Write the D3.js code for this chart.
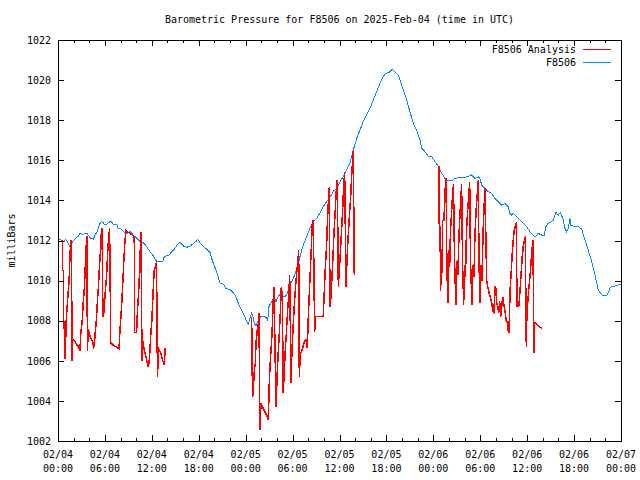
<!DOCTYPE html>
<html><head><meta charset="utf-8">
<script src="https://cdn.jsdelivr.net/npm/d3@7"></script>
<style>
body{margin:0;background:#fff}
text{font-family:"DejaVu Sans Mono",monospace;font-size:10px;fill:#000}
</style>
</head><body>
<svg id="c" width="640" height="480"></svg>
<script>
// hours since 2025-02-04 00:00 UTC, pressure in millibars
const stationObs = [[0.13,1012.07],[0.77,1011.94],[0.98,1012.06],[1.19,1011.94],[1.53,1011.7],[1.75,1011.86],[1.96,1012.0],[2.39,1012.16],[2.6,1012.22],[2.81,1012.36],[3.24,1012.31],[3.67,1012.36],[3.87,1012.27],[4.09,1012.14],[4.51,1012.06],[4.73,1012.27],[5.03,1012.44],[5.28,1012.77],[5.5,1012.94],[5.79,1012.89],[6.01,1012.77],[6.23,1012.82],[6.65,1012.94],[6.87,1012.92],[7.07,1012.82],[7.29,1012.77],[7.51,1012.82],[7.71,1012.6],[8.15,1012.56],[8.35,1012.44],[8.57,1012.39],[8.86,1012.36],[9.21,1012.44],[9.42,1012.36],[9.63,1012.27],[9.85,1012.19],[10.06,1012.11],[10.49,1011.94],[10.91,1011.89],[11.34,1011.7],[11.76,1011.44],[12.19,1011.23],[12.62,1010.94],[13.04,1010.94],[13.39,1010.94],[13.55,1011.16],[13.81,1011.23],[14.1,1011.23],[14.54,1011.44],[14.96,1011.61],[15.38,1011.86],[15.6,1011.9],[16.02,1011.73],[16.46,1011.66],[16.88,1011.73],[17.3,1011.83],[17.74,1011.99],[17.86,1012.06],[18.16,1011.89],[18.58,1011.7],[19.02,1011.56],[19.44,1011.4],[19.65,1011.11],[19.86,1010.86],[20.29,1010.45],[20.72,1009.86],[21.14,1009.83],[21.48,1009.6],[22.0,1009.56],[22.42,1009.4],[22.76,1009.2],[23.06,1008.87],[23.49,1008.53],[23.91,1008.2],[24.13,1007.95],[24.34,1007.84],[24.55,1008.12],[24.77,1008.37],[24.9,1008.28],[25.1,1007.87],[25.32,1007.74],[25.53,1007.95],[25.74,1008.12],[25.96,1008.2],[26.25,1008.2],[26.47,1008.23],[26.69,1008.12],[26.82,1008.04],[26.98,1008.7],[27.2,1008.87],[27.45,1009.03],[27.66,1009.2],[27.88,1008.95],[28.05,1009.1],[28.3,1009.3],[28.48,1009.2],[28.82,1009.23],[29.07,1009.2],[29.37,1009.4],[29.67,1009.78],[30.09,1010.11],[30.52,1010.53],[30.95,1011.2],[31.37,1011.78],[31.8,1012.19],[32.23,1012.61],[32.65,1012.94],[33.08,1013.11],[33.5,1013.36],[33.93,1013.69],[34.36,1013.94],[34.78,1014.15],[35.2,1014.45],[35.64,1014.6],[36.06,1014.93],[36.48,1015.18],[36.92,1015.52],[37.34,1015.85],[37.76,1016.51],[38.2,1017.1],[38.62,1017.5],[39.04,1017.93],[39.48,1018.26],[39.9,1018.59],[40.32,1019.0],[40.75,1019.42],[41.18,1019.84],[41.6,1020.2],[41.94,1020.34],[42.24,1020.37],[42.46,1020.42],[42.75,1020.54],[43.09,1020.42],[43.52,1020.25],[43.82,1019.92],[44.16,1019.5],[44.59,1019.0],[45.01,1018.42],[45.44,1017.84],[45.87,1017.51],[46.29,1017.01],[46.51,1016.6],[46.93,1016.43],[47.35,1016.21],[47.79,1016.18],[48.21,1015.93],[48.63,1015.7],[49.07,1015.35],[49.49,1015.1],[49.91,1014.98],[50.35,1014.98],[50.77,1015.1],[51.41,1015.15],[52.05,1015.15],[52.6,1015.22],[52.9,1015.27],[53.32,1015.1],[53.75,1015.18],[53.96,1015.1],[54.18,1014.77],[54.6,1014.6],[55.03,1014.44],[55.47,1014.35],[55.88,1014.1],[56.31,1013.94],[56.74,1013.77],[57.16,1013.85],[57.58,1013.69],[57.8,1013.35],[58.02,1013.27],[58.22,1013.35],[58.66,1013.19],[59.08,1013.02],[59.5,1012.86],[59.94,1012.69],[60.36,1012.44],[60.78,1012.27],[61.0,1012.16],[61.42,1012.36],[61.85,1012.27],[62.15,1012.22],[62.4,1012.69],[62.7,1012.86],[63.13,1012.94],[63.34,1013.02],[63.68,1013.39],[63.98,1013.27],[64.28,1013.39],[64.62,1013.02],[64.83,1012.61],[65.05,1012.44],[65.26,1012.6],[65.47,1013.1],[65.56,1012.77],[65.9,1012.72],[66.53,1012.72],[66.97,1012.56],[67.39,1012.03],[67.81,1011.53],[68.25,1010.95],[68.67,1010.28],[69.09,1009.53],[69.53,1009.28],[69.95,1009.23],[70.24,1009.28],[70.59,1009.62],[70.8,1009.73],[71.23,1009.73],[71.65,1009.78],[72.0,1009.83]];

const analysisDay1 = [[0.55,1012.0],[0.58,1010.5],[0.7,1010.5],[0.72,1007.6],[0.82,1008.0],[0.92,1006.1],[1.05,1008.0],[1.17,1008.7],[1.3,1009.4],[1.42,1010.0],[1.55,1011.4],[1.62,1011.9],[1.7,1012.0],[1.82,1006.0],[1.88,1007.1],[2.1,1007.0],[2.4,1006.8],[2.65,1006.7],[2.8,1006.5],[2.92,1007.4],[3.1,1008.0],[3.22,1008.9],[3.35,1009.5],[3.47,1010.5],[3.6,1011.7],[3.7,1012.2],[3.76,1006.5],[3.88,1007.6],[4.05,1007.3],[4.22,1007.1],[4.4,1007.0],[4.57,1006.7],[4.65,1006.8],[4.78,1007.5],[4.9,1008.0],[5.03,1008.9],[5.17,1009.7],[5.3,1010.7],[5.42,1011.4],[5.5,1012.2],[5.63,1012.6],[5.75,1008.2],[5.9,1008.5],[6.0,1009.2],[6.15,1009.9],[6.25,1010.5],[6.35,1011.4],[6.45,1012.0],[6.6,1012.6],[6.75,1006.9],[7.0,1006.8],[7.4,1006.7],[7.8,1006.6],[7.92,1007.5],[8.05,1008.2],[8.17,1009.0],[8.3,1010.0],[8.42,1011.0],[8.55,1011.9],[8.7,1012.5],[9.0,1012.4],[9.4,1012.3],[9.75,1012.2],[9.78,1007.4],[10.05,1007.4],[10.15,1008.4],[10.28,1009.2],[10.4,1010.2],[10.5,1011.3],[10.6,1012.4],[10.75,1006.0],[10.85,1007.0],[11.0,1006.6],[11.2,1006.3],[11.4,1005.9],[11.55,1005.7],[11.7,1006.1],[11.85,1007.2],[12.0,1008.0],[12.15,1009.3],[12.3,1010.5],[12.6,1010.9],[12.72,1005.2],[12.85,1006.6],[13.0,1006.5],[13.2,1006.3],[13.4,1006.0],[13.6,1005.8],[13.7,1006.6],[13.85,1006.6]];

const analysisDay2 = [[24.77,1008.2],[24.8,1006.2],[24.89,1004.2],[24.98,1004.55],[25.11,1005.54],[25.23,1005.87],[25.32,1006.87],[25.49,1007.54],[25.62,1007.87],[25.7,1008.37],[25.83,1002.55],[25.96,1003.88],[26.13,1003.71],[26.34,1003.55],[26.56,1003.38],[26.77,1003.21],[26.9,1003.05],[27.02,1004.88],[27.11,1005.71],[27.24,1006.54],[27.37,1007.37],[27.45,1008.2],[27.54,1009.2],[27.62,1009.7],[27.88,1003.71],[28.05,1005.54],[28.18,1006.54],[28.3,1007.37],[28.43,1008.37],[28.56,1009.7],[28.69,1009.2],[28.81,1004.38],[28.94,1005.54],[29.07,1006.54],[29.2,1007.37],[29.37,1008.54],[29.5,1009.2],[29.63,1010.28],[29.8,1004.88],[29.92,1006.54],[30.05,1007.54],[30.18,1008.54],[30.35,1009.53],[30.52,1010.36],[30.69,1011.03],[30.78,1011.53],[30.86,1005.21],[30.99,1006.37],[31.16,1006.46],[31.33,1006.71],[31.5,1006.96],[31.71,1007.04],[31.88,1006.62],[32.01,1008.2],[32.14,1009.37],[32.27,1010.53],[32.4,1011.69],[32.52,1012.86],[32.65,1013.02],[32.82,1007.45],[32.95,1008.2],[33.16,1008.2],[33.59,1008.2],[33.93,1008.24],[34.06,1009.53],[34.19,1010.69],[34.36,1011.86],[34.48,1013.19],[34.61,1014.19],[34.7,1014.69],[34.78,1008.7],[34.91,1009.2],[35.04,1010.2],[35.17,1011.2],[35.29,1012.36],[35.46,1013.52],[35.59,1014.52],[35.72,1015.02],[35.85,1009.7],[35.98,1010.53],[36.15,1011.69],[36.27,1012.52],[36.4,1013.52],[36.53,1014.69],[36.66,1015.43],[36.83,1009.7],[36.96,1011.03],[37.08,1012.0],[37.26,1013.19],[37.43,1014.19],[37.55,1015.18],[37.68,1016.0],[37.77,1016.51],[37.89,1010.28]];

const analysisDay3 = [[48.72,1015.7],[48.76,1012.7],[48.85,1012.7],[48.94,1009.5],[49.02,1011.5],[49.1,1010.4],[49.19,1013.0],[49.36,1013.0],[49.49,1014.4],[49.62,1015.1],[49.74,1010.5],[49.87,1008.9],[49.96,1011.5],[50.09,1010.7],[50.19,1012.5],[50.32,1013.3],[50.45,1014.2],[50.58,1014.8],[50.7,1011.2],[50.79,1010.0],[50.9,1008.8],[51.02,1011.0],[51.15,1010.3],[51.28,1012.3],[51.41,1013.3],[51.62,1014.8],[51.73,1011.0],[51.88,1008.8],[51.98,1010.8],[52.11,1010.2],[52.24,1012.5],[52.39,1013.5],[52.65,1014.9],[52.75,1011.0],[52.94,1008.8],[53.07,1010.8],[53.2,1010.2],[53.32,1012.3],[53.49,1013.6],[53.75,1015.0],[53.84,1011.0],[53.96,1008.9],[54.09,1010.8],[54.22,1010.0],[54.35,1012.3],[54.48,1013.6],[54.6,1014.6],[54.82,1010.0],[54.95,1009.7],[55.12,1009.4],[55.28,1009.2],[55.46,1008.9],[55.63,1008.45],[55.75,1008.4],[55.88,1009.7],[55.97,1009.7],[56.1,1008.9],[56.23,1008.7],[56.36,1008.4],[56.48,1009.0],[56.61,1008.2],[56.74,1008.7],[56.87,1009.2],[56.94,1009.0],[57.07,1008.7],[57.2,1008.4],[57.33,1008.0],[57.46,1007.9],[57.58,1007.5],[57.67,1007.4],[57.76,1008.7],[57.84,1009.7],[57.97,1010.5],[58.1,1011.4],[58.22,1012.0],[58.35,1012.5],[58.48,1012.7],[58.61,1012.9],[58.7,1008.7],[58.91,1008.7],[58.99,1009.0],[59.12,1009.7],[59.25,1010.5],[59.37,1011.2],[59.5,1011.7],[59.63,1012.0],[59.76,1012.2],[59.89,1006.7],[59.97,1008.5],[60.1,1009.0],[60.23,1009.7],[60.36,1010.2],[60.49,1010.9],[60.61,1011.5],[60.74,1012.0],[60.87,1006.4],[60.91,1007.9],[61.04,1007.9],[61.29,1007.8],[61.55,1007.7],[61.73,1007.65],[61.93,1007.6]];

const yTicks = [1002,1004,1006,1008,1010,1012,1014,1016,1018,1020,1022];
const xMajorHours = [0,6,12,18,24,30,36,42,48,54,60,66,72];
const xTickDates = ["02/04","02/04","02/04","02/04","02/05","02/05","02/05","02/05","02/06","02/06","02/06","02/06","02/07"];
const xTickTimes = ["00:00","06:00","12:00","18:00","00:00","06:00","12:00","18:00","00:00","06:00","12:00","18:00","00:00"];
const xMinorHours = d3.range(0, 73, 2).filter(h => h % 6 !== 0);
const titleText = "Barometric Pressure for F8506 on 2025-Feb-04 (time in UTC)";
const yLabel = "milliBars";
const seriesNames = ["F8506 Analysis", "F8506"];
const seriesColors = ["#ff0000", "#0a85ff"];

const L = 58, R = 621, T = 40, B = 441;
const svg = d3.select("#c");
const x = d3.scaleLinear().domain([0, 72]).range([L, R]);
const y = d3.scaleLinear().domain([1002, 1022]).range([B, T]);

// data lines
const line = d3.line().x(d => x(d[0])).y(d => y(d[1]));
const plot = svg.append("g");
plot.append("path").datum(stationObs).attr("d", line)
  .attr("fill", "none").attr("stroke", seriesColors[1]).attr("stroke-width", 1)
  .attr("shape-rendering", "crispEdges");
[analysisDay1, analysisDay2, analysisDay3].forEach(seg => {
  plot.append("path").datum(seg).attr("d", line)
    .attr("fill", "none").attr("stroke", seriesColors[0]).attr("stroke-width", 1.5)
    .attr("shape-rendering", "crispEdges");
});

// axes (ticks inward, mirrored)
function styleAxis(g) {
  g.select(".domain").remove();
  g.selectAll("line").attr("stroke", "#000").attr("shape-rendering", "crispEdges");
  g.selectAll("text").attr("font-family", "DejaVu Sans Mono, monospace").attr("font-size", 10).attr("fill", "#000");
}
svg.append("g").attr("transform", `translate(${L},0)`)
  .call(d3.axisLeft(y).tickValues(yTicks).tickSizeInner(-6).tickSizeOuter(0).tickPadding(7).tickFormat(d3.format("d")))
  .call(styleAxis);
svg.append("g").attr("transform", `translate(${R},0)`)
  .call(d3.axisRight(y).tickValues(yTicks).tickSizeInner(-6).tickSizeOuter(0).tickFormat(""))
  .call(styleAxis);
svg.append("g").attr("transform", `translate(0,${B})`)
  .call(d3.axisBottom(x).tickValues(xMajorHours).tickSizeInner(-6).tickSizeOuter(0).tickFormat(""))
  .call(styleAxis);
svg.append("g").attr("transform", `translate(0,${B})`)
  .call(d3.axisBottom(x).tickValues(xMinorHours).tickSizeInner(-3).tickSizeOuter(0).tickFormat(""))
  .call(styleAxis);
svg.append("g").attr("transform", `translate(0,${T})`)
  .call(d3.axisTop(x).tickValues(xMajorHours).tickSizeInner(-6).tickSizeOuter(0).tickFormat(""))
  .call(styleAxis);
svg.append("g").attr("transform", `translate(0,${T})`)
  .call(d3.axisTop(x).tickValues(xMinorHours).tickSizeInner(-3).tickSizeOuter(0).tickFormat(""))
  .call(styleAxis);

// x tick labels, two lines
const xl = svg.append("g");
xl.selectAll("text.d").data(xMajorHours).join("text").attr("class", "d")
  .attr("x", d => x(d)).attr("y", 458).attr("text-anchor", "middle")
  .text((d, i) => xTickDates[i]);
xl.selectAll("text.t").data(xMajorHours).join("text").attr("class", "t")
  .attr("x", d => x(d)).attr("y", 472).attr("text-anchor", "middle")
  .text((d, i) => xTickTimes[i]);

// border
svg.append("rect").attr("x", L + 0.5).attr("y", T + 0.5).attr("width", R - L).attr("height", B - T)
  .attr("fill", "none").attr("stroke", "#000").attr("shape-rendering", "crispEdges");

// title & y label
svg.append("text").attr("x", (L + R) / 2).attr("y", 23).attr("text-anchor", "middle").text(titleText);
svg.append("text").attr("transform", `translate(15,${(T + B) / 2}) rotate(-90)`)
  .attr("text-anchor", "middle").text(yLabel);

// legend
const lg = svg.append("g");
seriesNames.forEach((name, i) => {
  const ly = 49 + i * 13;
  lg.append("text").attr("x", 576).attr("y", ly + 4).attr("text-anchor", "end").text(name);
  lg.append("line").attr("x1", 583).attr("x2", 611).attr("y1", ly + 0.5).attr("y2", ly + 0.5)
    .attr("stroke", seriesColors[i]).attr("shape-rendering", "crispEdges");
});
</script>
</body></html>
